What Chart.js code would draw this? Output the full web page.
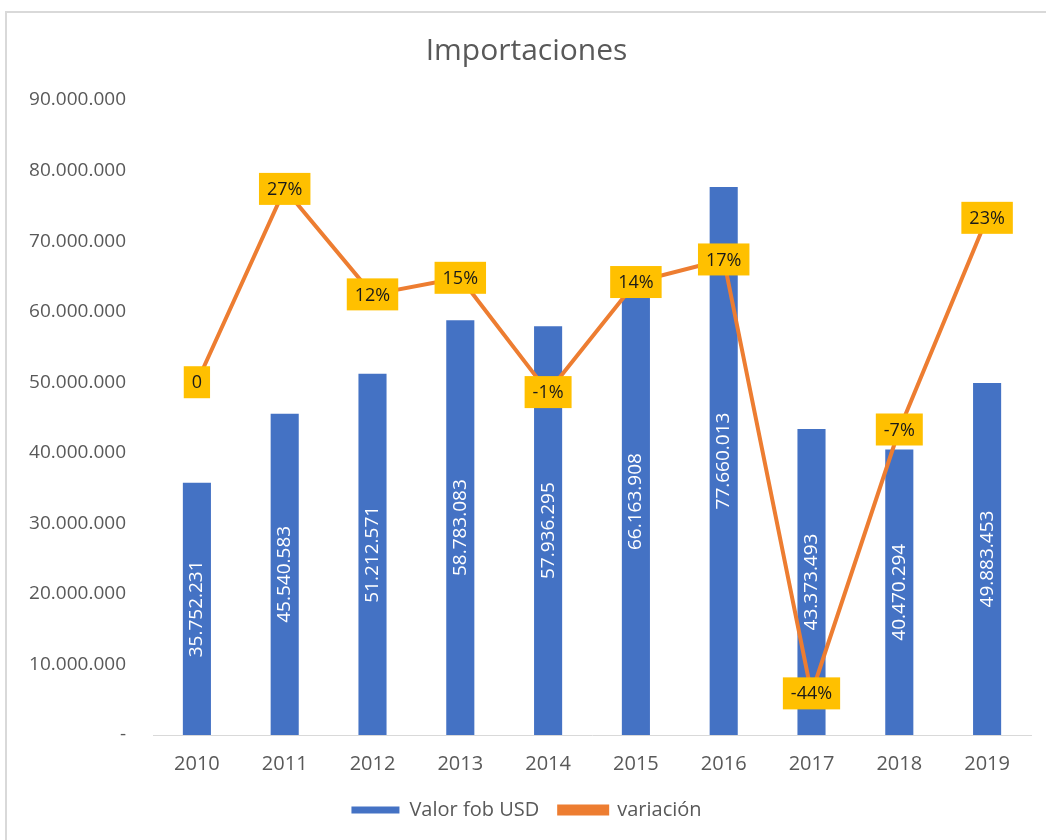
<!DOCTYPE html>
<html>
<head>
<meta charset="utf-8">
<title>Importaciones</title>
<script src="https://cdn.jsdelivr.net/npm/chart.js@4.4.1/dist/chart.umd.min.js"></script>
<style>
    body { margin: 0; background: #fff; }
    #frame { position: absolute; left: 5px; top: 11px; width: 1100px; height: 900px;
             border-left: 2px solid #D9D9D9; border-top: 2px solid #D9D9D9; }
    #wrap { position: absolute; left: 0; top: 0; width: 1046px; height: 840px; }
</style>
</head>
<body>
<div id="frame"></div>
<div id="wrap"><canvas id="importChart" width="1046" height="840"></canvas></div>
<script>
const years = ['2010', '2011', '2012', '2013', '2014', '2015', '2016', '2017', '2018', '2019'];
const valorFob = [35752231, 45540583, 51212571, 58783083, 57936295, 66163908, 77660013, 43373493, 40470294, 49883453];
const variacion = [0, 0.274, 0.1245, 0.148, -0.014, 0.142, 0.174, -0.441, -0.067, 0.233];
const yTicks = [0, 10000000, 20000000, 30000000, 40000000, 50000000, 60000000, 70000000, 80000000, 90000000];

const fontFamily = '"Open Sans", "Liberation Sans", sans-serif';

function fmtNumber(v) {
    return String(v).replace(/\B(?=(\d{3})+(?!\d))/g, '.');
}

function fmtPct(v) {
    if (v === 0) return '0';
    return Math.round(v * 100) + '%';
}

// etiquetas de datos al estilo Excel
const valueLabels = {
    id: 'valueLabels',
    afterDatasetsDraw(chart) {
        const ctx = chart.ctx;
        ctx.save();
        ctx.textAlign = 'center';
        ctx.textBaseline = 'middle';

        const bars = chart.getDatasetMeta(0).data;
        ctx.font = '19px ' + fontFamily;
        ctx.fillStyle = '#ffffff';
        bars.forEach((bar, i) => {
            const mid = (bar.y + bar.base) / 2;
            ctx.save();
            ctx.translate(bar.x, mid);
            ctx.rotate(-Math.PI / 2);
            ctx.fillText(fmtNumber(valorFob[i]), 0, 0);
            ctx.restore();
        });

        const pts = chart.getDatasetMeta(1).data;
        ctx.font = '18px ' + fontFamily;
        pts.forEach((pt, i) => {
            const txt = fmtPct(variacion[i]);
            const w = ctx.measureText(txt).width + 16;
            const h = 32;
            ctx.fillStyle = '#FFC000';
            ctx.fillRect(pt.x - w / 2, pt.y - h / 2, w, h);
            ctx.fillStyle = '#1a1a1a';
            ctx.fillText(txt, pt.x, pt.y + 1);
        });
        ctx.restore();
    }
};

const ctx = document.getElementById('importChart').getContext('2d');
const chart = new Chart(ctx, {
    type: 'bar',
    data: {
        labels: years,
        datasets: [{
            type: 'bar',
            label: 'Valor fob USD',
            data: valorFob,
            backgroundColor: '#4472C4',
            categoryPercentage: 1,
            barPercentage: 0.32,
            yAxisID: 'y',
            order: 1
        }, {
            type: 'line',
            label: 'variación',
            data: variacion,
            borderColor: '#ED7D31',
            backgroundColor: '#ED7D31',
            borderWidth: 4,
            pointRadius: 0,
            tension: 0,
            yAxisID: 'y1',
            order: 0
        }]
    },
    options: {
        responsive: false,
        animation: false,
        layout: { padding: { left: 22, right: 15, top: 0, bottom: 10 } },
        plugins: {
            tooltip: { enabled: false },
            title: {
                display: true,
                text: 'Importaciones',
                color: '#595959',
                font: { family: fontFamily, size: 30, weight: 'normal' },
                padding: { top: 33, bottom: 31 }
            },
            legend: {
                position: 'bottom',
                labels: {
                    color: '#595959',
                    font: { family: fontFamily, size: 20 },
                    boxWidth: 48,
                    boxHeight: 7,
                    padding: 20,
                    sort: (a, b) => a.datasetIndex - b.datasetIndex
                }
            }
        },
        scales: {
            x: {
                grid: { display: false },
                border: { display: true, color: '#D9D9D9', width: 1 },
                ticks: { color: '#595959', font: { family: fontFamily, size: 20 }, padding: 9 },
                afterFit(scale) { scale.height = 45; }
            },
            y: {
                min: 0,
                max: 90000000,
                afterBuildTicks(scale) { scale.ticks = yTicks.map(v => ({ value: v })); },
                grid: { display: false },
                border: { display: false },
                ticks: {
                    color: '#595959',
                    font: { family: fontFamily, size: 19 },
                    padding: 19,
                    callback: v => v === 0 ? '-' : fmtNumber(v)
                },
                afterFit(scale) { scale.width = 131; }
            },
            y1: {
                display: false,
                min: -0.5,
                max: 0.4
            }
        }
    },
    plugins: [valueLabels]
});
</script>
</body>
</html>
